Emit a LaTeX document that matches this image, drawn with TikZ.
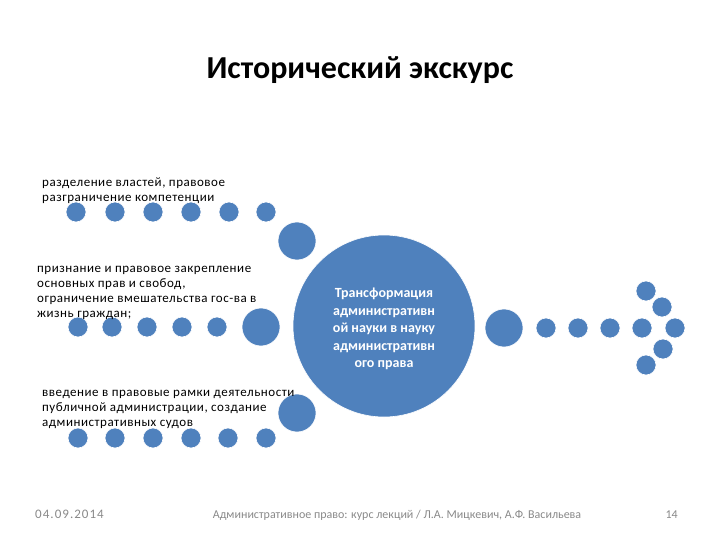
\documentclass[tikz,border=0pt]{standalone}
\usepackage{fontspec}
\setmainfont{Carlito}
\definecolor{dotblue}{HTML}{4F81BD}
\definecolor{footgrey}{HTML}{898989}
\tikzset{
  dot/.style={circle,fill=dotblue,draw=white,line width=0.6pt,minimum size=20pt,inner sep=0pt},
  bigdot/.style={dot,minimum size=38pt},
  lbl/.style={anchor=north west,align=left,font=\fontsize{13}{15}\selectfont\addfontfeatures{LetterSpace=4},inner sep=0pt},
  foot/.style={font=\fontsize{12}{14}\selectfont,text=footgrey,inner sep=0pt}
}
\begin{document}
\begin{tikzpicture}[x=1pt,y=-1pt]
\useasboundingbox (0,0) rectangle (720,540);
\node[font=\fontsize{32}{36}\selectfont\bfseries,inner sep=0pt] (title) at (360,70) {Исторический экскурс};
% row 1
\foreach \x [count=\i] in {76,115,153,191,229,266} \node[dot] (a\i) at (\x,212) {};
\node[bigdot] (A) at (297,241) {};
\node[lbl] (t1) at (42,178) {разделение властей, правовое\\разграничение компетенции};
% row 2
\foreach \x [count=\i] in {78,112,147,182,217} \node[dot] (b\i) at (\x,327) {};
\node[bigdot] (B) at (261,327) {};
\node[lbl] (t2) at (37,266) {признание и правовое закрепление\\основных прав и свобод,\\ограничение вмешательства гос-ва в\\жизнь граждан;};
% row 3
\foreach \x [count=\i] in {78,115,153,191,228,266} \node[dot] (c\i) at (\x,438) {};
\node[bigdot] (C) at (297,413) {};
\node[lbl] (t3) at (42,390) {введение в правовые рамки деятельности\\публичной администрации, создание\\административных судов};
% centre
\node[circle,fill=dotblue,draw=white,line width=0.6pt,minimum size=182pt,inner sep=0pt] (M) at (384,326) {};
\node[align=center,text=white,font=\fontsize{14}{17.5}\selectfont\bfseries,inner sep=0pt] (mt) at (384,329) {Трансформация\\административн\\ой науки в науку\\административн\\ого права};
% right arrow
\node[bigdot] (R) at (504,328) {};
\foreach \x [count=\i] in {546,578,610,642,675} \node[dot] (r\i) at (\x,328) {};
\node[dot] (h1) at (646,291) {};
\node[dot] (h2) at (662,307) {};
\node[dot] (h3) at (663,349) {};
\node[dot] (h4) at (646,365) {};
% footer
\node[foot,anchor=base west,font=\fontsize{13}{15}\selectfont\addfontfeatures{LetterSpace=8}] (f1) at (35,518) {04.09.2014};
\node[foot,anchor=base] (f2) at (397,518) {Административное право: курс лекций / Л.А. Мицкевич, А.Ф. Васильева};
\node[foot,anchor=base east] (f3) at (678,518) {14};
\end{tikzpicture}
\end{document}
